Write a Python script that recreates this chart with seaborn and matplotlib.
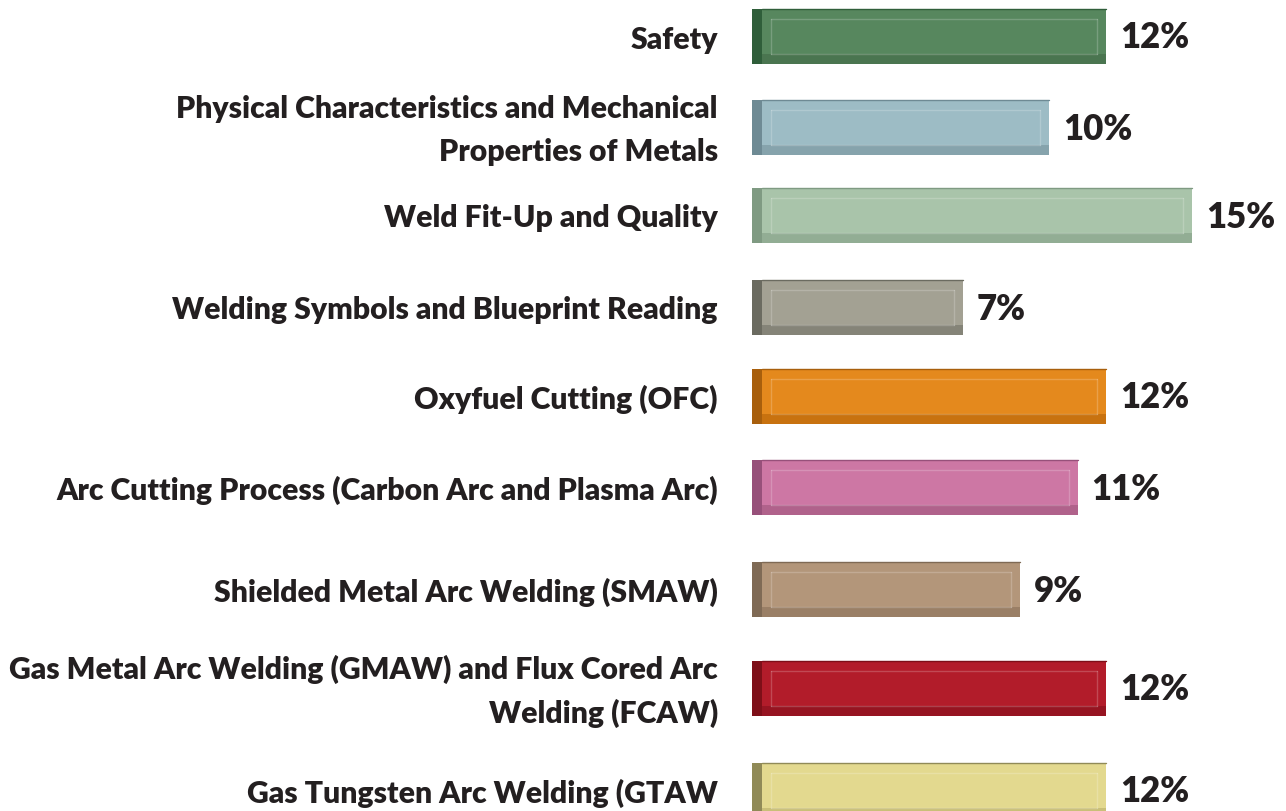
import matplotlib
matplotlib.use('Agg')
import matplotlib.pyplot as plt
import seaborn as sns
import pandas as pd
from matplotlib.patches import Rectangle

# ---------------- data ----------------
topics = ['Safety',
          'Physical Characteristics and Mechanical\nProperties of Metals',
          'Weld Fit-Up and Quality',
          'Welding Symbols and Blueprint Reading',
          'Oxyfuel Cutting (OFC)',
          'Arc Cutting Process (Carbon Arc and Plasma Arc)',
          'Shielded Metal Arc Welding (SMAW)',
          'Gas Metal Arc Welding (GMAW) and Flux Cored Arc\nWelding (FCAW)',
          'Gas Tungsten Arc Welding (GTAW']
percent = [12, 10, 15, 7, 12, 11, 9, 12, 12]

# row centres (pixel units, top -> bottom)
rows = [36, 127, 215, 307, 396, 487, 589, 688, 790]

face = ['#57875e', '#9dbcc5', '#a9c4aa', '#a3a193', '#e4891d',
        '#cd77a4', '#b3967a', '#b21c2a', '#e3d98f']
dark = ['#2f5e3a', '#6e8a94', '#7f9a82', '#6b6b60', '#a85f0c',
        '#97507a', '#7f6a55', '#7e0f18', '#908a57']
bottom = ['#4a7550', '#86a3ac', '#92ad94', '#858478', '#c8720f',
          '#b0628b', '#9a7f66', '#961421', '#c9bf78']

df = pd.DataFrame({'topic': topics, 'pct': percent, 'row': rows})

sns.set_style('white')
plt.rcParams['font.family'] = ['Lato', 'DejaVu Sans']

fig = plt.figure(figsize=(12.86, 8.11), dpi=100)
ax = fig.add_axes([0, 0, 1, 1])

sns.barplot(data=df, x='pct', y='row', hue='topic', palette=face,
            orient='h', native_scale=True, legend=False, ax=ax,
            linewidth=0, saturation=1)

# px per percent ~28.7, zero at px 762
ppp = 28.7
ax.set_xlim(-762 / ppp, (1286 - 762) / ppp)
ax.set_ylim(811, 0)
ax.axis('off')

bar_h = 55
cap = 10 / ppp
ins = 9 / ppp
for p, r, v, d, b in zip(ax.patches, rows, percent, dark, bottom):
    top, bot = r - bar_h / 2, r + bar_h / 2
    p.set_y(top)
    p.set_height(bar_h)
    # dark left end cap
    ax.add_patch(Rectangle((-cap, top), cap, bar_h, color=d, lw=0))
    # darker bottom bevel
    ax.add_patch(Rectangle((0, bot - 10), v, 10, color=b, lw=0))
    # light inner highlight frame
    hl = dict(color='white', alpha=0.2, lw=1)
    ax.plot([ins, v - ins], [top + 10] * 2, **hl)
    ax.plot([ins, v - ins], [bot - 10] * 2, **hl)
    ax.plot([ins, ins], [top + 10, bot - 10], **hl)
    ax.plot([v - ins, v - ins], [top + 10, bot - 10], **hl)
    ax.plot([0, v], [top + 0.5] * 2, color=d, lw=1)
    ax.text(v + 14 / ppp, r + 2, f'{v}%', ha='left', va='center',
            fontsize=25, fontweight='heavy', color='#231f20')

for t, r in zip(topics, rows):
    ax.text((718 - 762) / ppp, r + 3.5, t, ha='right', va='center',
            fontsize=21.7, fontweight='heavy', color='#231f20',
            linespacing=1.65, multialignment='right')

fig.savefig('out.png', dpi=100)
